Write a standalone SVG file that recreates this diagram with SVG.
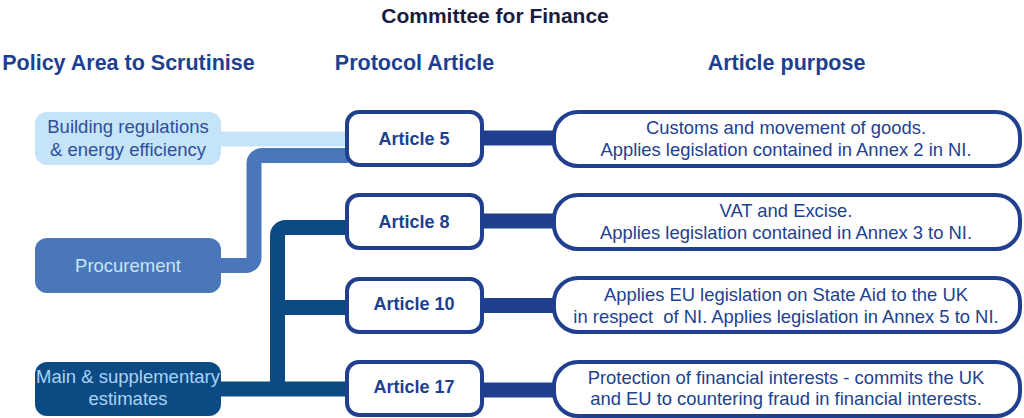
<svg xmlns="http://www.w3.org/2000/svg" width="1024" height="418" viewBox="0 0 1024 418">
<style>
text{font-family:"Liberation Sans",Arial,sans-serif;text-anchor:middle}
.title{font-size:21px;font-weight:bold;fill:#1b1b3d}
.hdr{font-size:21.5px;font-weight:bold;fill:#213f8f}
.lt{font-size:18.5px}
.art rect{fill:#fff;stroke:#213f8f;stroke-width:4}
.art text{font-size:18px;font-weight:bold;fill:#213f8f}
.pur rect{fill:#fff;stroke:#213f8f;stroke-width:4}
.pur text{font-size:18.4px;fill:#22418f;white-space:pre}
</style>
<text class="title" x="495" y="23">Committee for Finance</text>
<text class="hdr" x="128.5" y="70">Policy Area to Scrutinise</text>
<text class="hdr" x="414.5" y="70">Protocol Article</text>
<text class="hdr" x="786.5" y="70">Article purpose</text>

<g id="connectors" fill="none" stroke-linecap="butt">
<path d="M220 139 H348" stroke="#c6e4f8" stroke-width="15"/>
<path d="M220 265.5 H246 A8 8 0 0 0 254 257.5 V163.5 A8 8 0 0 1 262 155.5 H348" stroke="#4a77b9" stroke-width="15"/>
<path d="M348 227.5 H285.5 A8 8 0 0 0 277.5 235.5 V389" stroke="#0c4a84" stroke-width="15"/>
<path d="M277.5 307.5 H348" stroke="#0c4a84" stroke-width="15"/>
<path d="M220 389 H348" stroke="#0c4a84" stroke-width="15"/>
<path d="M482 138 H556 M482 221 H556 M482 305.5 H556 M482 390 H556" stroke="#213f8f" stroke-width="15"/>
</g>

<g id="policy-building">
<rect x="35" y="112" width="186" height="53" rx="12" fill="#c6e4f8"/>
<text class="lt" x="128" y="132.5" fill="#2e4f9e">Building regulations</text>
<text class="lt" x="128" y="155.5" fill="#2e4f9e">&amp; energy efficiency</text>
</g>
<g id="policy-procurement">
<rect x="35" y="238" width="186" height="55" rx="12" fill="#4a77b9"/>
<text class="lt" x="128" y="271.5" fill="#c6e4f8">Procurement</text>
</g>
<g id="policy-estimates">
<rect x="35" y="362" width="186" height="54" rx="12" fill="#0c4a84"/>
<text class="lt" x="128" y="383" fill="#a9d3f3">Main &amp; supplementary</text>
<text class="lt" x="128" y="405" fill="#a9d3f3">estimates</text>
</g>

<g id="article-5" class="art">
<rect x="347" y="112" width="135" height="53" rx="12"/>
<text x="414" y="144.5">Article 5</text>
</g>
<g id="article-8" class="art">
<rect x="347" y="195" width="135" height="53" rx="12"/>
<text x="414" y="227.5">Article 8</text>
</g>
<g id="article-10" class="art">
<rect x="347" y="279" width="135" height="53" rx="12"/>
<text x="414" y="310">Article 10</text>
</g>
<g id="article-17" class="art">
<rect x="347" y="362" width="135" height="53" rx="12"/>
<text x="414" y="393">Article 17</text>
</g>

<g id="purpose-5" class="pur">
<rect x="554" y="112" width="466" height="54" rx="24"/>
<text x="786" y="133.5">Customs and movement of goods.</text>
<text x="786" y="155.5">Applies legislation contained in Annex 2 in NI.</text>
</g>
<g id="purpose-8" class="pur">
<rect x="554" y="195" width="466" height="54" rx="24"/>
<text x="786" y="216.5">VAT and Excise.</text>
<text x="786" y="239">Applies legislation contained in Annex 3 to NI.</text>
</g>
<g id="purpose-10" class="pur">
<rect x="554" y="278" width="466" height="54" rx="24"/>
<text x="786" y="300.5">Applies EU legislation on State Aid to the UK</text>
<text x="786" y="322.5">in respect  of NI. Applies legislation in Annex 5 to NI.</text>
</g>
<g id="purpose-17" class="pur">
<rect x="554" y="362" width="466" height="54" rx="24"/>
<text x="786" y="383.5">Protection of financial interests - commits the UK</text>
<text x="786" y="405">and EU to countering fraud in financial interests.</text>
</g>
</svg>
